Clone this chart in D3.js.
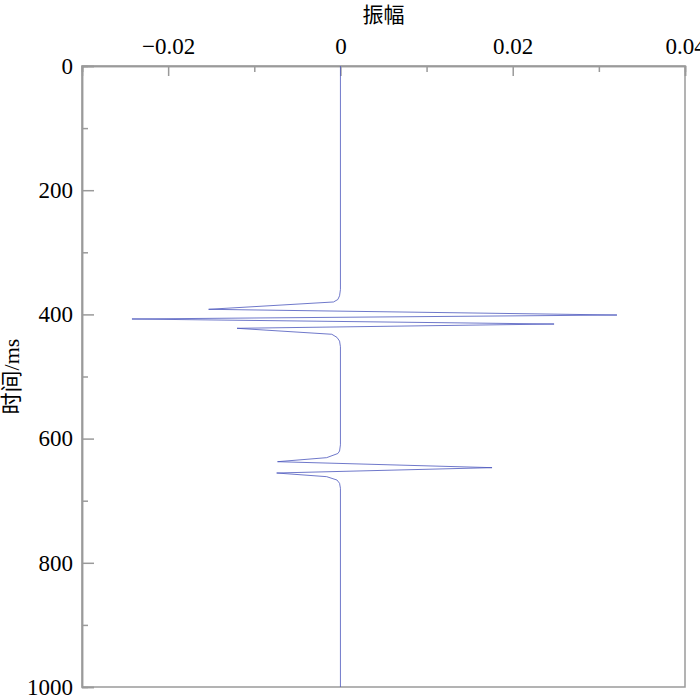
<!DOCTYPE html>
<html>
<head>
<meta charset="utf-8">
<script src="https://cdn.jsdelivr.net/npm/d3@7"></script>
<style>
  body { margin: 0; background: #fff; }
  svg text { font-family: "Liberation Serif", "Times New Roman", serif; fill: #000; }
</style>
</head>
<body>
<div id="trace"></div>
<script>
// trace samples: time (ms) and amplitude
const timeMs = [0, 360, 370, 376, 380, 391.8, 401, 407.4, 415.5, 422.4, 432, 437, 443, 452,
                610, 620, 624, 630.7, 637.2, 646.8, 655.4, 661.3, 666.7, 672, 680, 1000];
const amplitude = [0, 0, -0.0001, -0.0003, -0.0008, -0.0153, 0.0321, -0.0242, 0.0248, -0.0120, -0.0010, -0.0004, -0.0001, 0,
                   0, -0.0001, -0.0003, -0.0016, -0.0073, 0.0176, -0.0074, -0.0016, -0.0004, -0.0001, 0, 0];

// tick labels
const ampTicks = [-0.02, 0, 0.02, 0.04];
const ampMinor = [-0.03, -0.01, 0.01, 0.03];
const timeTicks = [0, 200, 400, 600, 800, 1000];
const timeMinor = [100, 300, 500, 700, 900];

const margin = {top: 66, right: 15, bottom: 8, left: 82},
      width = 700 - margin.left - margin.right,
      height = 695 - margin.top - margin.bottom;

const svg = d3.select("#trace")
  .append("svg")
    .attr("width", width + margin.left + margin.right)
    .attr("height", height + margin.top + margin.bottom)
  .append("g")
    .attr("transform", "translate(" + margin.left + "," + margin.top + ")");

const x = d3.scaleLinear().domain([-0.03, 0.04]).range([0, width]);
const y = d3.scaleLinear().domain([0, 1000]).range([0, height]);

const fmt = d3.format("");

// minor ticks first, without labels
svg.append("g")
  .attr("class", "axis")
  .call(d3.axisTop(x).tickValues(ampMinor).tickSize(-6).tickFormat(""));
svg.append("g")
  .attr("class", "axis")
  .call(d3.axisLeft(y).tickValues(timeMinor).tickSize(-6).tickFormat(""));

// top axis (amplitude)
svg.append("g")
  .attr("class", "axis")
  .call(d3.axisTop(x).tickValues(ampTicks).tickSize(-10).tickPadding(12).tickFormat(fmt));

// left axis (time)
svg.append("g")
  .attr("class", "axis")
  .call(d3.axisLeft(y).tickValues(timeTicks).tickSize(-12).tickPadding(9).tickFormat(fmt));

svg.selectAll(".axis path, .axis line")
  .attr("stroke", "#9a9a9a")
  .attr("stroke-width", 1.5);
svg.selectAll(".axis text")
  .style("font-family", "'Liberation Serif', serif")
  .style("font-size", "23px")
  .attr("fill", "#000");

// box round the plot
svg.append("rect")
  .attr("width", width)
  .attr("height", height)
  .attr("fill", "none")
  .attr("stroke", "#9a9a9a")
  .attr("stroke-width", 1.5);

// the trace
const pts = timeMs.map((t, i) => [amplitude[i], t]);
svg.append("path")
  .datum(pts)
  .attr("fill", "none")
  .attr("stroke", "#4a55bc")
  .attr("stroke-width", 0.8)
  .attr("d", d3.line().x(d => x(d[0])).y(d => y(d[1])));

// axis titles
svg.append("text")
  .attr("x", width / 2)
  .attr("y", -44)
  .attr("text-anchor", "middle")
  .style("font-family", "'Noto Sans CJK SC', sans-serif")
  .style("font-size", "21px")
  .text("振幅");

svg.append("text")
  .attr("transform", "translate(" + (-63) + "," + (height / 2) + ") rotate(-90)")
  .attr("text-anchor", "middle")
  .style("font-size", "22px")
  .html('<tspan style="font-family:\'Noto Sans CJK SC\'">时间</tspan>/ms');
</script>
</body>
</html>
